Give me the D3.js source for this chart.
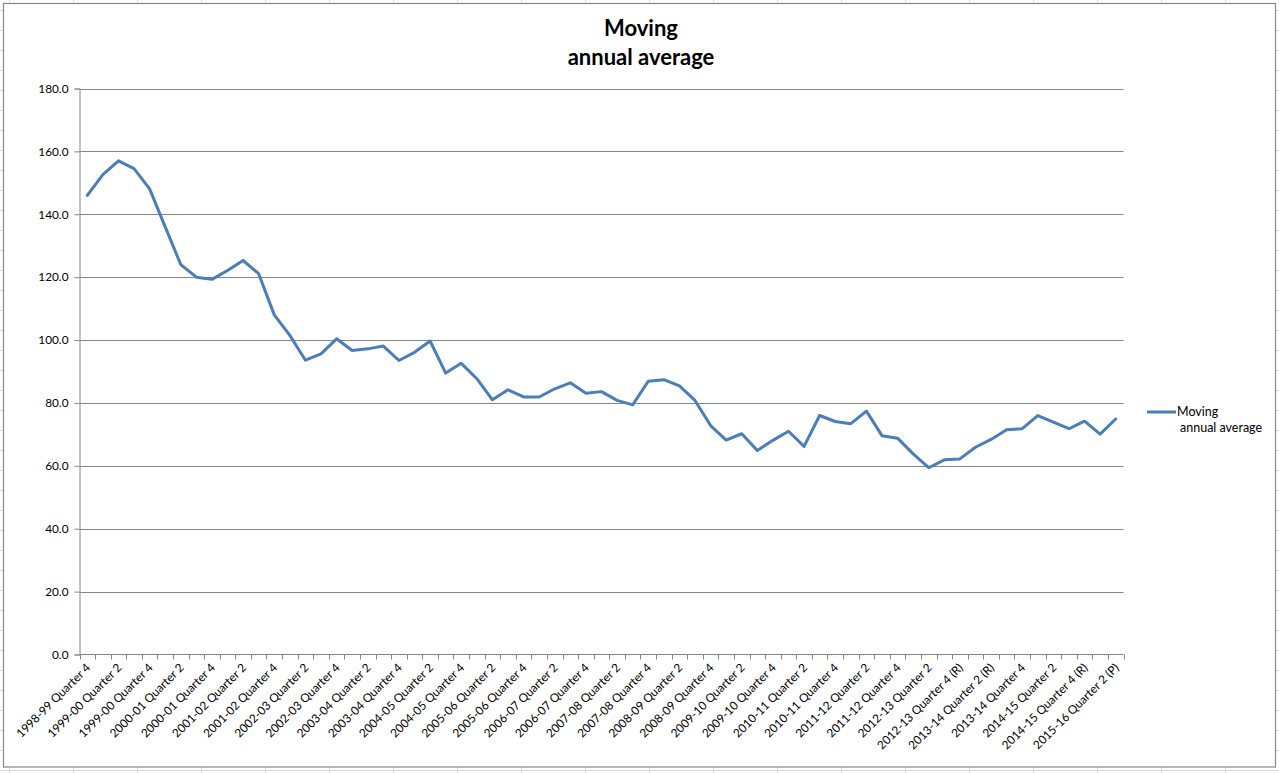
<!DOCTYPE html>
<html>
<head>
<meta charset="utf-8">
<script src="https://cdn.jsdelivr.net/npm/d3@7"></script>
<style>
  html, body { margin: 0; padding: 0; background: #fff; }
  svg { display: block; }
  text { font-family: Lato, "Open Sans", "Liberation Sans", sans-serif; }
</style>
</head>
<body>
<svg id="chart" width="1279" height="773"></svg>
<script>
const categories = [
  "1998-99 Quarter 4",
  "1999-00 Quarter 1", "1999-00 Quarter 2", "1999-00 Quarter 3", "1999-00 Quarter 4",
  "2000-01 Quarter 1", "2000-01 Quarter 2", "2000-01 Quarter 3", "2000-01 Quarter 4",
  "2001-02 Quarter 1", "2001-02 Quarter 2", "2001-02 Quarter 3", "2001-02 Quarter 4",
  "2002-03 Quarter 1", "2002-03 Quarter 2", "2002-03 Quarter 3", "2002-03 Quarter 4",
  "2003-04 Quarter 1", "2003-04 Quarter 2", "2003-04 Quarter 3", "2003-04 Quarter 4",
  "2004-05 Quarter 1", "2004-05 Quarter 2", "2004-05 Quarter 3", "2004-05 Quarter 4",
  "2005-06 Quarter 1", "2005-06 Quarter 2", "2005-06 Quarter 3", "2005-06 Quarter 4",
  "2006-07 Quarter 1", "2006-07 Quarter 2", "2006-07 Quarter 3", "2006-07 Quarter 4",
  "2007-08 Quarter 1", "2007-08 Quarter 2", "2007-08 Quarter 3", "2007-08 Quarter 4",
  "2008-09 Quarter 1", "2008-09 Quarter 2", "2008-09 Quarter 3", "2008-09 Quarter 4",
  "2009-10 Quarter 1", "2009-10 Quarter 2", "2009-10 Quarter 3", "2009-10 Quarter 4",
  "2010-11 Quarter 1", "2010-11 Quarter 2", "2010-11 Quarter 3", "2010-11 Quarter 4",
  "2011-12 Quarter 1", "2011-12 Quarter 2", "2011-12 Quarter 3", "2011-12 Quarter 4",
  "2012-13 Quarter 1", "2012-13 Quarter 2", "2012-13 Quarter 3 (R)", "2012-13 Quarter 4 (R)",
  "2013-14 Quarter 1 (R)", "2013-14 Quarter 2 (R)", "2013-14 Quarter 3", "2013-14 Quarter 4",
  "2014-15 Quarter 1", "2014-15 Quarter 2", "2014-15 Quarter 3 (R)", "2014-15 Quarter 4 (R)",
  "2015-16 Quarter 1 (R)", "2015-16 Quarter 2 (P)"
];

const seriesName = "Moving annual average";
const values = [
  146.0, 152.6, 157.0, 154.5, 148.1, 136.0, 124.0, 120.0, 119.3, 122.1,
  125.3, 121.1, 108.0, 101.5, 93.6, 95.6, 100.4, 96.7, 97.2, 98.1,
  93.5, 96.1, 99.7, 89.5, 92.6, 87.7, 81.0, 84.2, 81.9, 81.9,
  84.5, 86.4, 83.1, 83.6, 80.8, 79.4, 86.9, 87.4, 85.4, 80.8,
  72.8, 68.2, 70.2, 64.9, 68.1, 71.0, 66.2, 76.0, 74.1, 73.4,
  77.4, 69.6, 68.8, 63.8, 59.4, 61.9, 62.2, 65.9, 68.4, 71.5,
  71.8, 76.0, 73.9, 71.8, 74.2, 70.1, 74.9
];

const yTicks = [0, 20, 40, 60, 80, 100, 120, 140, 160, 180];

const W = 1279, H = 773;
const svg = d3.select("#chart");

// Spreadsheet background grid
const bg = svg.append("g");
bg.selectAll("line.v").data(d3.range(9.5, W, 64)).join("line")
  .attr("x1", d => d).attr("x2", d => d).attr("y1", 0).attr("y2", H)
  .attr("stroke", "#d9d9d9").attr("stroke-width", 1);
bg.selectAll("line.h").data(d3.range(10.5, H, 20)).join("line")
  .attr("x1", 0).attr("x2", W).attr("y1", d => d).attr("y2", d => d)
  .attr("stroke", "#d9d9d9").attr("stroke-width", 1);

// Chart area
svg.append("rect")
  .attr("x", 3.5).attr("y", 3.5).attr("width", 1272).attr("height", 763.5)
  .attr("fill", "#fff").attr("stroke", "#888").attr("stroke-width", 1.2);

// Title
const title = svg.append("text")
  .attr("text-anchor", "middle")
  .attr("font-weight", "bold").attr("font-size", 22).attr("fill", "#000");
title.append("tspan").attr("x", 641).attr("y", 36).text("Moving");
title.append("tspan").attr("x", 641).attr("y", 65).text("annual average");

const plot = { left: 79.5, right: 1123.5, top: 88.5, bottom: 654.5 };

const x = d3.scaleBand().domain(categories).range([plot.left, plot.right]).padding(0);
const y = d3.scaleLinear().domain([0, 180]).range([plot.bottom, plot.top]);

// Gridlines
svg.append("g").selectAll("line").data(yTicks.filter(d => d > 0)).join("line")
  .attr("x1", plot.left).attr("x2", plot.right)
  .attr("y1", d => Math.round(y(d)) + 0.5).attr("y2", d => Math.round(y(d)) + 0.5)
  .attr("stroke", "#868686").attr("stroke-width", 1);

// Y axis
const yAxis = svg.append("g")
  .attr("transform", `translate(${plot.left},0)`)
  .call(d3.axisLeft(y).tickValues(yTicks).tickFormat(d3.format(".1f")).tickSize(5).tickPadding(6));
yAxis.select(".domain").attr("stroke", "#868686");
yAxis.selectAll(".tick line").attr("stroke", "#868686");
yAxis.selectAll(".tick text").attr("font-size", 11.8).attr("fill", "#000")
  .style("font-family", "Lato, 'Open Sans', sans-serif");

// X axis: ticks at category boundaries
const xg = svg.append("g").attr("transform", `translate(0,${plot.bottom})`);
xg.append("line").attr("x1", plot.left).attr("x2", plot.right).attr("y1", 0).attr("y2", 0)
  .attr("stroke", "#868686");
const boundaries = categories.map(c => x(c)).concat([x(categories[categories.length - 1]) + x.bandwidth()]);
xg.selectAll("line.tk").data(boundaries).join("line")
  .attr("x1", d => Math.round(d) + 0.5).attr("x2", d => Math.round(d) + 0.5)
  .attr("y1", 0).attr("y2", 5).attr("stroke", "#868686");
xg.selectAll("text.lbl").data(categories.filter((c, i) => i % 2 === 0)).join("text")
  .attr("class", "lbl")
  .attr("transform", d => `translate(${x(d) + x.bandwidth() / 2 + 1},${11}) rotate(-45)`)
  .attr("text-anchor", "end")
  .attr("dy", "0.35em")
  .attr("font-size", 11.8).attr("fill", "#000")
  .text(d => d);

// Line
const line = d3.line()
  .x((d, i) => x(categories[i]) + x.bandwidth() / 2)
  .y(d => y(d));
svg.append("path").datum(values)
  .attr("d", line)
  .attr("fill", "none").attr("stroke", "#4a7ebb").attr("stroke-width", 3)
  .attr("stroke-linejoin", "round").attr("stroke-linecap", "round");

// Legend
const lg = svg.append("g");
lg.append("line").attr("x1", 1147).attr("x2", 1176).attr("y1", 412).attr("y2", 412)
  .attr("stroke", "#4a7ebb").attr("stroke-width", 3);
const lt = lg.append("text").attr("font-size", 12.5).attr("fill", "#000");
lt.append("tspan").attr("x", 1177).attr("y", 416).text("Moving");
lt.append("tspan").attr("x", 1180).attr("y", 432).text("annual average");
</script>
</body>
</html>
